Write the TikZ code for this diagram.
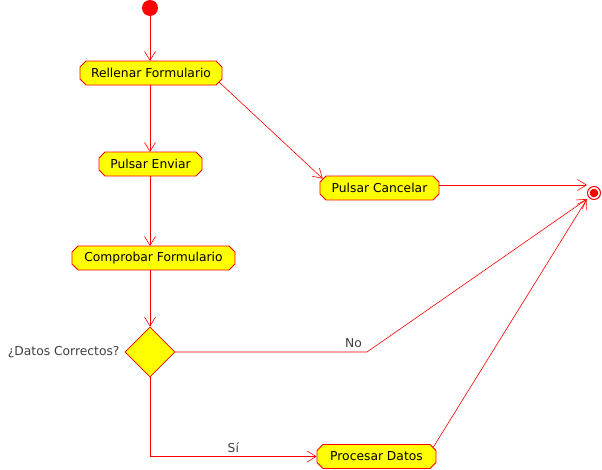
\documentclass[tikz,border=0pt]{standalone}
\usepackage{fontspec}
\setmainfont{DejaVu Sans}
\usetikzlibrary{shapes.misc,shapes.geometric,arrows.meta}
\definecolor{umlred}{HTML}{FF0000}
\definecolor{umlyellow}{HTML}{FFFF00}
\definecolor{labelgray}{HTML}{404040}
\tikzset{
  action/.style={chamfered rectangle, chamfered rectangle xsep=3pt, chamfered rectangle ysep=3pt,
    draw=umlred, fill=umlyellow, line width=0.8pt, inner sep=0pt, minimum height=24pt,
    font=\fontsize{12.3}{14}\selectfont, text=black},
  decision/.style={diamond, draw=umlred, fill=umlyellow, line width=0.8pt, inner sep=0pt,
    minimum width=50pt, minimum height=50pt},
  flow/.style={draw=umlred, line width=0.6pt, -{Straight Barb[length=9pt,width=11pt,line width=0.6pt]}},
  guard/.style={font=\fontsize{12.3}{14}\selectfont, text=labelgray}
}
\begin{document}
\begin{tikzpicture}[x=1pt,y=-1pt]
  \useasboundingbox (0,0) rectangle (602,469);

  % initial and final states
  \node[circle, fill=umlred, minimum size=16pt, inner sep=0pt] (start) at (150,8) {};
  \node[circle, draw=umlred, line width=1pt, fill=white, minimum size=13pt, inner sep=0pt] (final) at (594,193) {};
  \fill[umlred] (final.center) circle (4.3pt);
  \coordinate (finA) at (587,185);
  \coordinate (finB) at (587,199);

  % actions
  \node[action, minimum width=142pt] (rellenar) at (151,73) {Rellenar Formulario};
  \node[action, minimum width=103pt] (enviar) at (150.5,164) {Pulsar Enviar};
  \node[action, minimum width=163pt] (comprobar) at (153.5,258) {Comprobar Formulario};
  \node[action, minimum width=119pt] (cancelar) at (379.5,188) {Pulsar Cancelar};
  \node[action, minimum width=119pt] (procesar) at (376.5,456.5) {Procesar Datos};

  % decision
  \node[decision] (check) at (150,352) {};
  \node[guard, anchor=east] (checklbl) at (123,352) {¿Datos Correctos?};
  \coordinate (bendNo) at (367,352);
  \coordinate (bendSi) at (150,456.5);

  % transitions
  \draw[flow] (start) -- (150,61);
  \draw[flow] (150,85) -- (150,152);
  \draw[flow] (rellenar.south east) -- (cancelar.north west);
  \draw[flow] (150,176) -- (150,246);
  \draw[flow] (150,270) -- (check.north);
  \draw[flow] (cancelar.east |- finA) -- (finA);
  \draw[flow] (check.east) -- (bendNo) node[guard, pos=0.93, above=1pt] {No} -- (finB);
  \draw[flow] (check.south) -- (bendSi) -- (procesar.west) node[guard, pos=0.5, above=0pt] {Sí};
  \draw[flow] (procesar.north east) -- (finB);
\end{tikzpicture}
\end{document}
